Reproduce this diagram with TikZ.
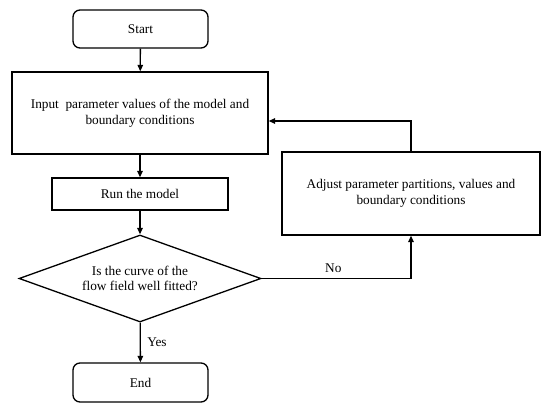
\documentclass[tikz,border=0pt]{standalone}
\usepackage{fontspec}
\setmainfont{Liberation Serif}
\usetikzlibrary{arrows.meta,positioning,calc,shapes.geometric}

\begin{document}
\begin{tikzpicture}[
  x=1pt,y=-1pt,
  >={Triangle[length=6.5pt,width=5.5pt]},
  font=\fontsize{13.3}{15.5}\selectfont,
  term/.style={draw,rectangle,rounded corners=7pt,align=center,line width=1.3pt,minimum width=135pt,minimum height=38pt},
  box/.style={draw,rectangle,align=center,line width=1.3pt,inner sep=2pt},
  test/.style={draw,diamond,aspect=2.78,align=center,line width=1.3pt,inner sep=0pt,minimum width=242pt,minimum height=87pt},
  arr/.style={->,line width=1.3pt}
]
  \useasboundingbox (0,0) rectangle (550,413);

  % main column
  \node[term] (start) at (140.5,29) {Start};
  \node[box,minimum width=256pt,minimum height=82pt] (inp) at (140,113)
    {Input\ \ parameter values of the model and\\boundary conditions};
  \node[box,minimum width=176pt,minimum height=32pt] (run) at (140,194) {Run the model};
  \node[test] (fit) at (140,278.5) {Is the curve of the\\flow field well fitted?};
  \node[term,minimum height=39pt] (end) at (140.5,382.5) {End};

  % side branch
  \node[box,minimum width=258pt,minimum height=83pt] (adj) at (411,193.5)
    {Adjust parameter partitions, values and\\boundary conditions};

  \draw[arr] (start) -- (inp);
  \draw[arr] (inp) -- (run);
  \draw[arr] (run) -- (fit);
  \draw[arr] (fit) -- node[right=3pt] {Yes} (end);

  \draw[arr] (fit.east) -| node[pos=0.24,above=2pt] {No} (adj.south);
  \draw[arr] (adj.north) |- ($(inp.east)+(0,8)$);
\end{tikzpicture}
\end{document}
